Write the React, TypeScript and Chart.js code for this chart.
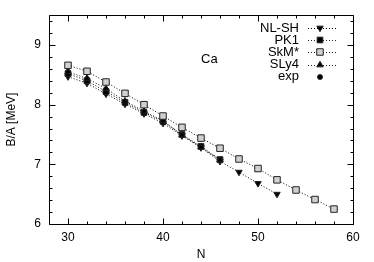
import React, { useEffect, useRef } from 'react';
import { Chart, registerables } from 'chart.js';
import { drawPoint } from 'chart.js/helpers';

Chart.register(...registerables);

// ---- data ----
const N_SKM = [30, 32, 34, 36, 38, 40, 42, 44, 46, 48, 50, 52, 54, 56, 58];
const SKM = [8.66, 8.56, 8.38, 8.19, 8.0, 7.81, 7.62, 7.44, 7.27, 7.09, 6.93, 6.74, 6.57, 6.41, 6.25];
const N_NLSH = [30, 32, 34, 36, 38, 40, 42, 44, 46, 48, 50, 52];
const NLSH = [8.47, 8.36, 8.18, 8.01, 7.85, 7.69, 7.48, 7.28, 7.05, 6.87, 6.68, 6.5];
const N_PK1 = [30, 32, 34, 36, 38, 40, 42, 44, 46];
const PK1 = [8.52, 8.4, 8.22, 8.04, 7.87, 7.72, 7.5, 7.3, 7.08];
const N_SLY4 = [30, 32, 34, 36, 38, 40, 42, 44, 46];
const SLY4 = [8.55, 8.44, 8.27, 8.06, 7.89, 7.73, 7.49, 7.29, 7.07];
const N_EXP = [30, 32, 34, 36];
const EXP = [8.55, 8.43, 8.24, 8.04];

const X_TICKS = [30, 40, 50, 60];
const Y_TICKS = [6, 7, 8, 9];
const X_MIN = 28, X_MAX = 60, Y_MIN = 6, Y_MAX = 9.5;
const X_MINOR_STEP = 2, Y_MINOR_STEP = 0.2;
const X_TITLE = 'N';
const Y_TITLE = 'B/A [MeV]';
const ELEMENT_LABEL = 'Ca';

const FONT_FAMILY = '"Liberation Sans", Arial, Helvetica, sans-serif';

type Series = { label: string; xs: number[]; ys: number[]; style: string; rot: number; radius: number; fill: string; line: boolean };

const SERIES: Series[] = [
  { label: 'NL-SH', xs: N_NLSH, ys: NLSH, style: 'triangle', rot: 180, radius: 3.7, fill: '#000', line: true },
  { label: 'PK1', xs: N_PK1, ys: PK1, style: 'rect', rot: 0, radius: 4, fill: '#000', line: true },
  { label: 'SkM*', xs: N_SKM, ys: SKM, style: 'rect', rot: 0, radius: 4.6, fill: '#d0d0d0', line: true },
  { label: 'SLy4', xs: N_SLY4, ys: SLY4, style: 'triangle', rot: 0, radius: 3.7, fill: '#000', line: true },
  { label: 'exp', xs: N_EXP, ys: EXP, style: 'circle', rot: 0, radius: 2.5, fill: '#000', line: false },
];

const DRAW_ORDER = ['SkM*', 'SLy4', 'PK1', 'NL-SH', 'exp'];

const framePlugin = {
  id: 'frame',
  afterDatasetsDraw(chart: any) {
    const { ctx, chartArea: a, scales } = chart;
    const xs = scales.x, ys = scales.y;
    ctx.save();
    ctx.strokeStyle = '#000';
    ctx.lineWidth = 1;
    const L = Math.round(a.left) + 0.5, R = Math.round(a.right) + 0.5;
    const T = Math.round(a.top) + 0.5, B = Math.round(a.bottom) + 0.5;
    ctx.beginPath();
    ctx.rect(L, T, R - L, B - T);
    ctx.stroke();
    ctx.beginPath();
    for (let v = X_MIN; v <= X_MAX + 1e-9; v += X_MINOR_STEP) {
      const major = X_TICKS.some((t) => Math.abs(t - v) < 1e-6);
      const len = major ? 6 : 3;
      const px = Math.round(xs.getPixelForValue(v)) + 0.5;
      ctx.moveTo(px, B); ctx.lineTo(px, B - len);
      ctx.moveTo(px, T); ctx.lineTo(px, T + len);
    }
    for (let i = 0; Y_MIN + i * Y_MINOR_STEP <= Y_MAX + 1e-9; i++) {
      const v = Y_MIN + i * Y_MINOR_STEP;
      const major = Y_TICKS.some((t) => Math.abs(t - v) < 1e-6);
      const len = major ? 6 : 3;
      const py = Math.round(ys.getPixelForValue(v)) + 0.5;
      ctx.moveTo(L, py); ctx.lineTo(L + len, py);
      ctx.moveTo(R, py); ctx.lineTo(R - len, py);
    }
    ctx.stroke();

    // element label
    ctx.fillStyle = '#000';
    ctx.font = `13px ${FONT_FAMILY}`;
    ctx.textAlign = 'left';
    ctx.textBaseline = 'middle';
    ctx.fillText(ELEMENT_LABEL, 201, 59);

    // legend
    SERIES.forEach((s, i) => {
      const y = 28 + i * 12.2;
      ctx.fillStyle = '#000';
      ctx.textAlign = 'right';
      ctx.fillText(s.label, 299, y);
      if (s.line) {
        ctx.save();
        ctx.setLineDash([1, 2]);
        ctx.beginPath();
        ctx.moveTo(308, Math.round(y) + 0.5);
        ctx.lineTo(338, Math.round(y) + 0.5);
        ctx.stroke();
        ctx.restore();
      }
      ctx.fillStyle = s.fill;
      ctx.strokeStyle = '#222';
      ctx.lineWidth = 1;
      drawPoint(ctx, { pointStyle: s.style as any, rotation: s.rot, radius: s.radius, borderWidth: 1 }, 320, Math.round(y));
    });
    ctx.restore();
  },
};

export default function App() {
  const ref = useRef<HTMLCanvasElement | null>(null);
  useEffect(() => {
    if (!ref.current) return;
    const font = { family: FONT_FAMILY, size: 12 };
    const datasets = DRAW_ORDER.map((name) => {
      const s = SERIES.find((q) => q.label === name)!;
      return {
        label: s.label,
        data: s.xs.map((x, i) => ({ x, y: s.ys[i] })),
        showLine: s.line,
        borderColor: '#000',
        borderWidth: 1,
        borderDash: [1, 2],
        pointStyle: s.style,
        pointRotation: s.rot,
        pointRadius: s.radius,
        pointBackgroundColor: s.fill,
        pointBorderColor: '#222',
        pointBorderWidth: 1,
        fill: false,
        tension: 0,
      };
    });
    const chart = new Chart(ref.current, {
      type: 'scatter',
      data: { datasets: datasets as any },
      options: {
        animation: false,
        responsive: false,
        maintainAspectRatio: false,
        layout: { padding: { left: 0, right: 21, top: 15, bottom: 0 } },
        plugins: { legend: { display: false }, tooltip: { enabled: false } },
        scales: {
          x: {
            type: 'linear',
            min: X_MIN,
            max: X_MAX,
            afterBuildTicks: (s: any) => { s.ticks = X_TICKS.map((v) => ({ value: v })); },
            afterFit: (s: any) => { s.height = 38; },
            grid: { display: false, drawTicks: false },
            border: { display: false },
            ticks: { padding: 6, color: '#000', font, maxRotation: 0, autoSkip: false },
            title: { display: true, text: X_TITLE, color: '#000', font, padding: { top: 0, bottom: 0 } },
          },
          y: {
            type: 'linear',
            min: Y_MIN,
            max: Y_MAX,
            afterBuildTicks: (s: any) => { s.ticks = Y_TICKS.map((v) => ({ value: v })); },
            afterFit: (s: any) => { s.width = 49; },
            grid: { display: false, drawTicks: false },
            border: { display: false },
            ticks: { padding: 8, color: '#000', font, autoSkip: false },
            title: { display: true, text: Y_TITLE, color: '#000', font, padding: { top: 4, bottom: 0 } },
          },
        },
      },
      plugins: [framePlugin],
    });
    return () => chart.destroy();
  }, []);
  return (
    <div style={{ position: 'absolute', left: 0, top: 0, width: 374, height: 262, background: '#fff' }}>
      <canvas ref={ref} width={374} height={262} style={{ width: 374, height: 262 }} />
    </div>
  );
}
